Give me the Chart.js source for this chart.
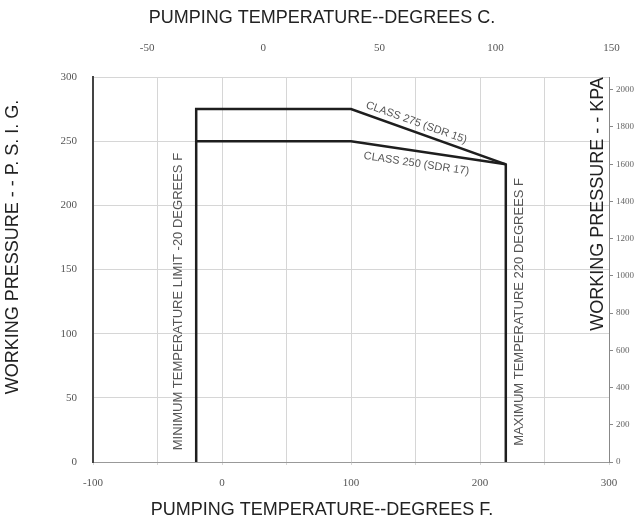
<!DOCTYPE html>
<html>
<head>
<meta charset="utf-8">
<script src="https://cdn.jsdelivr.net/npm/chart.js@4/dist/chart.umd.min.js"></script>
<style>
  body { margin: 0; background: #fff; }
</style>
</head>
<body>
<canvas id="ratingChart" width="643" height="523"></canvas>
<script>
// pressure rating lines (temperature in F, pressure in psig)
const upperTempF = [-20, -20, 100, 220, 220];
const upperPsi = [0, 275, 275, 232, 0];
const lowerTempF = [-20, 100, 220];
const lowerPsi = [250, 250, 232];

// tick labels
const fTicks = [-100, 0, 100, 200, 300];
const cTicks = [-50, 0, 50, 100, 150];
const psiTicks = [0, 50, 100, 150, 200, 250, 300];
const kpaTicks = [0, 200, 400, 600, 800, 1000, 1200, 1400, 1600, 1800, 2000];

const upperLabel = 'CLASS 275 (SDR 15)';
const lowerLabel = 'CLASS 250 (SDR 17)';
const minLabel = 'MINIMUM TEMPERATURE LIMIT -20 DEGREES F';
const maxLabel = 'MAXIMUM TEMPERATURE 220 DEGREES F';

const toC = f => (f - 32) / 1.8;
const psiToKpa = p => p * 6.895;

const pts = (xs, ys) => xs.map((x, i) => ({ x: x, y: ys[i] }));

const tickFont = { family: 'Liberation Serif', size: 11 };

const textPlugin = {
    id: 'chartText',
    afterDraw(chart) {
        const c = chart.ctx;
        const sx = chart.scales.x, sy = chart.scales.y;
        c.save();
        c.fillStyle = '#222';
        c.textAlign = 'center';
        c.textBaseline = 'middle';

        // axis titles
        c.font = '18px "Liberation Sans"';
        c.fillText('PUMPING TEMPERATURE--DEGREES C.', 322, 18);
        c.fillText('PUMPING TEMPERATURE--DEGREES F.', 322, 510);
        c.save();
        c.translate(13, 247);
        c.rotate(-Math.PI / 2);
        c.fillText('WORKING PRESSURE - - P. S. I. G.', 0, 0);
        c.restore();
        c.save();
        c.translate(598, 204);
        c.rotate(-Math.PI / 2);
        c.fillText('WORKING PRESSURE - - KPA', 0, 0);
        c.restore();

        // temperature limits
        c.fillStyle = '#555';
        c.font = '13px "Liberation Sans"';
        c.save();
        c.translate(sx.getPixelForValue(-20) - 18, sy.getPixelForValue(125));
        c.rotate(-Math.PI / 2);
        c.fillText(minLabel, 0, 0);
        c.restore();
        c.save();
        c.translate(sx.getPixelForValue(220) + 14, sy.getPixelForValue(117));
        c.rotate(-Math.PI / 2);
        c.fillText(maxLabel, 0, 0);
        c.restore();

        // class labels along the derated segments
        const seg = (t0, p0, t1, p1) => {
            const x0 = sx.getPixelForValue(t0), y0 = sy.getPixelForValue(p0);
            const x1 = sx.getPixelForValue(t1), y1 = sy.getPixelForValue(p1);
            return { x: (x0 + x1) / 2, y: (y0 + y1) / 2, a: Math.atan2(y1 - y0, x1 - x0) };
        };
        c.font = '11px "Liberation Sans"';
        let s = seg(upperTempF[2], upperPsi[2], upperTempF[3], upperPsi[3]);
        c.save();
        c.translate(s.x - 12, s.y - 14);
        c.rotate(s.a);
        c.fillText(upperLabel, 0, 0);
        c.restore();
        s = seg(lowerTempF[1], lowerPsi[1], lowerTempF[2], lowerPsi[2]);
        c.save();
        c.translate(s.x - 12, s.y + 11);
        c.rotate(s.a);
        c.fillText(lowerLabel, 0, 0);
        c.restore();
        c.restore();
    }
};

const ctx = document.getElementById('ratingChart').getContext('2d');
new Chart(ctx, {
    type: 'scatter',
    data: {
        datasets: [{
            data: pts(upperTempF, upperPsi),
            showLine: true,
            borderColor: '#1e1e1e',
            borderWidth: 2.5,
            pointRadius: 0,
            xAxisID: 'x',
            yAxisID: 'y'
        }, {
            data: pts(lowerTempF, lowerPsi),
            showLine: true,
            borderColor: '#1e1e1e',
            borderWidth: 2.5,
            pointRadius: 0,
            xAxisID: 'x',
            yAxisID: 'y'
        }]
    },
    options: {
        responsive: false,
        animation: false,
        layout: { padding: 0 },
        plugins: {
            legend: { display: false },
            tooltip: { enabled: false }
        },
        scales: {
            x: {
                type: 'linear',
                position: 'bottom',
                min: -100,
                max: 300,
                afterBuildTicks: axis => {
                    axis.ticks = [];
                    for (let v = -100; v <= 300; v += 50) axis.ticks.push({ value: v });
                },
                afterFit: axis => { axis.height = 61; },
                ticks: {
                    font: tickFont,
                    color: '#555',
                    padding: 12,
                    maxRotation: 0,
                    callback: v => fTicks.includes(v) ? String(v) : ''
                },
                grid: { color: '#d6d6d6', lineWidth: 1, drawTicks: true, tickLength: 3 },
                border: { color: '#999', width: 1 }
            },
            x2: {
                type: 'linear',
                position: 'top',
                min: toC(-100),
                max: toC(300),
                afterBuildTicks: axis => {
                    axis.ticks = cTicks.map(v => ({ value: v }));
                },
                afterFit: axis => { axis.height = 77; },
                ticks: { font: tickFont, color: '#555', padding: 22, maxRotation: 0 },
                grid: { display: false, drawTicks: false },
                border: { display: false }
            },
            y: {
                type: 'linear',
                position: 'left',
                min: 0,
                max: 300,
                afterBuildTicks: axis => {
                    axis.ticks = psiTicks.map(v => ({ value: v }));
                },
                afterFit: axis => { axis.width = 93; },
                ticks: { font: tickFont, color: '#555', padding: 16 },
                grid: { color: '#d6d6d6', lineWidth: 1, drawTicks: false },
                border: { color: '#444', width: 2 }
            },
            y2: {
                type: 'linear',
                position: 'right',
                min: 0,
                max: psiToKpa(300),
                afterBuildTicks: axis => {
                    axis.ticks = kpaTicks.map(v => ({ value: v }));
                },
                afterFit: axis => { axis.width = 34; },
                ticks: {
                    font: { family: 'Liberation Serif', size: 9 },
                    color: '#666',
                    padding: 3,
                    callback: v => String(v)
                },
                grid: { drawOnChartArea: false, tickLength: 4, color: '#888' },
                border: { color: '#888', width: 1 }
            }
        }
    },
    plugins: [textPlugin]
});
</script>
</body>
</html>
